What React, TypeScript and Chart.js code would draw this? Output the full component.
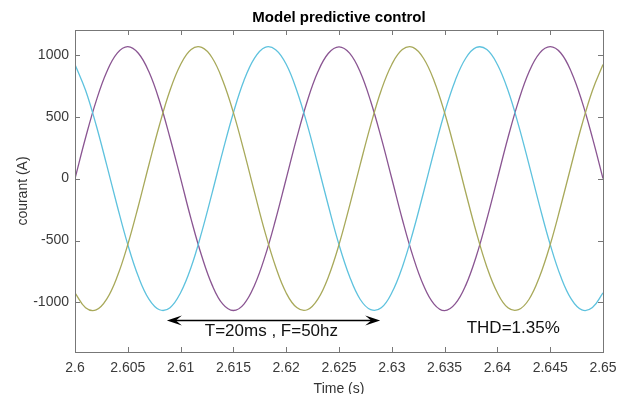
import React, { useEffect, useRef } from 'react';
import { Chart, registerables } from 'chart.js';

Chart.register(...registerables);

const timeS = [
  2.600, 2.601, 2.602, 2.603, 2.604, 2.605, 2.606, 2.607, 2.608, 2.609,
  2.610, 2.611, 2.612, 2.613, 2.614, 2.615, 2.616, 2.617, 2.618, 2.619,
  2.620, 2.621, 2.622, 2.623, 2.624, 2.625, 2.626, 2.627, 2.628, 2.629,
  2.630, 2.631, 2.632, 2.633, 2.634, 2.635, 2.636, 2.637, 2.638, 2.639,
  2.640, 2.641, 2.642, 2.643, 2.644, 2.645, 2.646, 2.647, 2.648, 2.649,
  2.650,
];

const phasePurple = [
  0, 330, 626, 861, 1013, 1066, 1012, 862, 627, 328,
  2, -329, -625, -862, -1014, -1065, -1013, -861, -626, -330,
  -1, 329, 627, 862, 1012, 1064, 1013, 863, 625, 329,
  1, -330, -626, -861, -1013, -1066, -1012, -862, -627, -328,
  0, 330, 626, 862, 1013, 1065, 1014, 861, 626, 329,
  0,
];

const phaseOlive = [
  -922, -1042, -1060, -973, -791, -532, -221, 112, 433, 713,
  921, 1043, 1059, 974, 790, 533, 222, -111, -434, -712,
  -923, -1041, -1059, -973, -792, -533, -220, 111, 432, 714,
  922, 1042, 1060, 972, 791, 532, 221, -112, -433, -713,
  -922, -1043, -1058, -974, -790, -533, -221, 110, 433, 712,
  922,
];

const phaseCyan = [
  922, 713, 433, 111, -221, -533, -791, -973, -1059, -1042,
  -921, -714, -432, -111, 222, 532, 792, 973, 1060, 1041,
  923, 712, 434, 110, -221, -533, -790, -974, -1058, -1043,
  -922, -713, -433, -112, 221, 534, 791, 972, 1059, 1042,
  921, 713, 432, 111, -222, -532, -791, -973, -1060, -1041,
  -922,
];

const xTicks = [2.6, 2.605, 2.61, 2.615, 2.62, 2.625, 2.63, 2.635, 2.64, 2.645, 2.65];
const yTicks = [-1000, -500, 0, 500, 1000];

const titleText = 'Model predictive control';
const xTitle = 'Time (s)';
const yTitle = 'courant (A)';
const periodText = 'T=20ms , F=50hz';
const thdText = 'THD=1.35%';
const arrowFrom = 2.6087;
const arrowTo = 2.6289;
const arrowY = -1140;
const periodTextPos = [2.6186, -1235];
const thdTextPos = [2.6415, -1210];

const FONT = '"Liberation Sans", Arial, Helvetica, sans-serif';

const decorPlugin = {
  id: 'decor',
  afterDraw(chart: any) {
    const { ctx, chartArea: a, scales } = chart;
    const x = scales.x;
    const y = scales.y;
    ctx.save();

    // box
    ctx.strokeStyle = '#777777';
    ctx.lineWidth = 1;
    ctx.strokeRect(Math.round(a.left) + 0.5, Math.round(a.top) + 0.5, Math.round(a.right - a.left), Math.round(a.bottom - a.top));

    // inner tick marks
    ctx.beginPath();
    xTicks.forEach((v) => {
      const px = Math.round(x.getPixelForValue(v)) + 0.5;
      ctx.moveTo(px, a.bottom);
      ctx.lineTo(px, a.bottom - 5);
      ctx.moveTo(px, a.top);
      ctx.lineTo(px, a.top + 5);
    });
    yTicks.forEach((v) => {
      const py = Math.round(y.getPixelForValue(v)) + 0.5;
      ctx.moveTo(a.left, py);
      ctx.lineTo(a.left + 5, py);
      ctx.moveTo(a.right, py);
      ctx.lineTo(a.right - 5, py);
    });
    ctx.stroke();

    // title
    ctx.fillStyle = '#000000';
    ctx.font = `bold 15px ${FONT}`;
    ctx.textAlign = 'center';
    ctx.textBaseline = 'middle';
    ctx.fillText(titleText, (a.left + a.right) / 2, 18);

    // axis titles
    ctx.fillStyle = '#333333';
    ctx.font = `14px ${FONT}`;
    ctx.textBaseline = 'alphabetic';
    ctx.fillText(xTitle, (a.left + a.right) / 2, 393);
    ctx.save();
    ctx.translate(27, (a.top + a.bottom) / 2);
    ctx.rotate(-Math.PI / 2);
    ctx.textBaseline = 'alphabetic';
    ctx.fillText(yTitle, 0, 0);
    ctx.restore();

    // double arrow
    const x0 = x.getPixelForValue(arrowFrom);
    const x1 = x.getPixelForValue(arrowTo);
    const ay = Math.round(y.getPixelForValue(arrowY)) + 0.5;
    ctx.strokeStyle = '#000000';
    ctx.fillStyle = '#000000';
    ctx.lineWidth = 1.5;
    ctx.beginPath();
    ctx.moveTo(x0 + 6, ay);
    ctx.lineTo(x1 - 6, ay);
    ctx.stroke();
    const L = 15;
    const W = 5;
    const N = 9;
    ctx.beginPath();
    ctx.moveTo(x0, ay);
    ctx.lineTo(x0 + L, ay - W);
    ctx.lineTo(x0 + N, ay);
    ctx.lineTo(x0 + L, ay + W);
    ctx.closePath();
    ctx.fill();
    ctx.beginPath();
    ctx.moveTo(x1, ay);
    ctx.lineTo(x1 - L, ay - W);
    ctx.lineTo(x1 - N, ay);
    ctx.lineTo(x1 - L, ay + W);
    ctx.closePath();
    ctx.fill();

    // annotation texts
    ctx.font = `17px ${FONT}`;
    ctx.fillStyle = '#111111';
    ctx.textAlign = 'center';
    ctx.textBaseline = 'middle';
    ctx.fillText(periodText, x.getPixelForValue(periodTextPos[0]), y.getPixelForValue(periodTextPos[1]));
    ctx.fillText(thdText, x.getPixelForValue(thdTextPos[0]), y.getPixelForValue(thdTextPos[1]));

    ctx.restore();
  },
};

export default function App() {
  const canvasRef = useRef<HTMLCanvasElement | null>(null);

  useEffect(() => {
    const canvas = canvasRef.current;
    if (!canvas) return;
    const mk = (vals: number[]) => timeS.map((t, i) => ({ x: t, y: vals[i] }));
    const chart = new Chart(canvas, {
      type: 'line',
      data: {
        datasets: [
          { data: mk(phaseOlive), borderColor: '#A8A95A', borderWidth: 1.3 },
          { data: mk(phaseCyan), borderColor: '#5EC2DE', borderWidth: 1.3 },
          { data: mk(phasePurple), borderColor: '#8A5592', borderWidth: 1.3 },
        ],
      },
      options: {
        responsive: false,
        animation: false,
        devicePixelRatio: 1,
        layout: { padding: { left: 0, top: 30, right: 16, bottom: 0 } },
        elements: { point: { radius: 0 }, line: { tension: 0.4, fill: false } },
        plugins: {
          legend: { display: false },
          tooltip: { enabled: false },
          title: { display: false },
        },
        scales: {
          x: {
            type: 'linear',
            min: 2.6,
            max: 2.65,
            grid: { display: false, drawTicks: false },
            border: { display: false },
            afterBuildTicks: (s: any) => {
              s.ticks = xTicks.map((v) => ({ value: v }));
            },
            afterFit: (s: any) => {
              s.height = 42;
              s.paddingLeft = 0;
              s.paddingRight = 0;
            },
            ticks: {
              autoSkip: false,
              maxRotation: 0,
              padding: 8,
              color: '#3a3a3a',
              font: { family: FONT, size: 14 },
              callback: (v: any) => String(v),
            },
          },
          y: {
            type: 'linear',
            min: -1400,
            max: 1200,
            grid: { display: false, drawTicks: false },
            border: { display: false },
            afterBuildTicks: (s: any) => {
              s.ticks = yTicks.map((v) => ({ value: v }));
            },
            afterFit: (s: any) => {
              s.width = 75;
              s.paddingTop = 0;
              s.paddingBottom = 0;
            },
            ticks: {
              padding: 6,
              color: '#3a3a3a',
              font: { family: FONT, size: 14 },
              callback: (v: any) => String(v),
            },
          },
        },
      },
      plugins: [decorPlugin],
    } as any);
    return () => chart.destroy();
  }, []);

  return (
    <div style={{ position: 'fixed', left: 0, top: 0, width: 619, height: 394, background: '#ffffff' }}>
      <canvas ref={canvasRef} width={619} height={394} style={{ display: 'block' }} />
    </div>
  );
}
